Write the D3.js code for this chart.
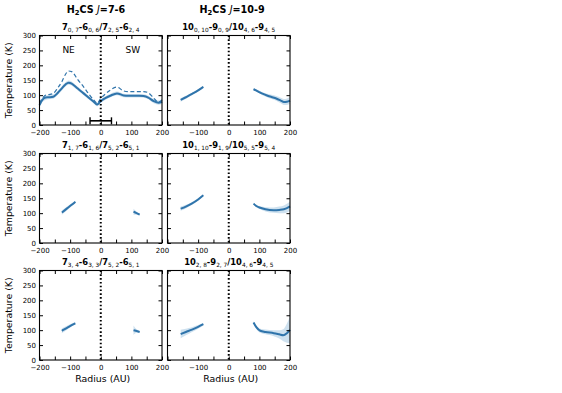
<!DOCTYPE html>
<html>
<head>
<meta charset="utf-8">
<script src="https://cdn.jsdelivr.net/npm/d3@7"></script>
<style>
  body { margin: 0; background: #fff; }
  svg { font-family: "DejaVu Sans", sans-serif; }
  .tick text { font-family: "DejaVu Sans", sans-serif; font-size: 7px; fill: #000; }
  .tick line { stroke: #000; }
  .domain { stroke: none; }
</style>
</head>
<body>
<svg id="chart" width="562" height="393"></svg>
<script>
// ---- data ----
// radius grid (AU) and temperatures (K)
var p1Radius = [-200,-190,-180,-170,-155,-140,-127,-115,-105,-95,-89,-75,-56,-40,-23,-12,0,15,31,53,75,90,107,125,140,155,173,189,200];
var p1Solid  = [67,85,92,93,95,108,123,136,142,139,134,122,106,92,78,69,80,90,98,106,99,98,98,98,97,92,80,75,78];
var p1Dashed = [73,90,100,102,106,125,145,170,181,179,173,152,128,105,84,73,89,104,117,127,114,112,112,112,112,108,90,76,84];
var p1Err    = [8,8,8,7,7,7,7,7,7,7,7,6,6,6,6,6,6,6,6,6,6,6,6,6,6,6,7,7,8];

var p2LeftR  = [-157,-140,-120,-100,-83];
var p2LeftT  = [84,93,104,116,128];
var p2LeftE  = [6,5,4,4,3];
var p2RightR = [81,95,110,125,140,155,170,180,190,200];
var p2RightT = [120,113,105,99,94,89,82,77,78,82];
var p2RightE = [3,4,5,6,7,8,9,10,11,12];

var p3LeftR  = [-127,-110,-95,-83];
var p3LeftT  = [102,116,128,138];
var p3LeftE  = [7,6,5,4];
var p3RightR = [107,117,127];
var p3RightT = [105,100,95];
var p3RightE = [10,5,3];

var p4LeftR  = [-157,-140,-121,-100,-83];
var p4LeftT  = [115,122,132,146,160];
var p4LeftE  = [7,6,5,4,3];
var p4RightR = [81,90,103,120,147,165,180,200];
var p4RightT = [132,124,118,113,110,111,113,123];
var p4RightE = [3,4,5,7,9,11,13,15];

var p5LeftR  = [-127,-110,-95,-83];
var p5LeftT  = [98,108,117,123];
var p5LeftE  = [8,7,5,4];
var p5RightR = [107,117,127];
var p5RightT = [100,97,94];
var p5RightE = [16,6,3];

var p6LeftR  = [-157,-140,-120,-100,-83];
var p6LeftT  = [87,94,102,111,120];
var p6LeftE  = [14,11,8,6,4];
var p6RightR = [81,90,103,120,147,165,178,190,200];
var p6RightT = [126,110,98,94,90,86,83,90,101];
var p6RightE = [4,6,7,8,10,14,20,32,45];

var colTitles = ["J=7-6", "J=10-9"];
var panelLabels = [
  [["7","0, 7"],["-6","0, 6"],["/7","2, 5"],["-6","2, 4"]],
  [["10","0, 10"],["-9","0, 9"],["/10","4, 6"],["-9","4, 5"]],
  [["7","1, 7"],["-6","1, 6"],["/7","5, 2"],["-6","5, 1"]],
  [["10","1, 10"],["-9","1, 9"],["/10","5, 5"],["-9","5, 4"]],
  [["7","3, 4"],["-6","3, 3"],["/7","5, 2"],["-6","5, 1"]],
  [["10","2, 8"],["-9","2, 7"],["/10","4, 6"],["-9","4, 5"]]
];
var xTicks = [-200,-150,-100,-50,0,50,100,150,200];
var yTicks = [0,50,100,150,200,250,300];
var beamHalf = 35, beamT = 14; // NE/SW beam bar in first panel

var lineColor = "#2f74ab";
var bandColor = "#1f77b4";

function seg(r, t, e) {
  return r.map(function (d, i) { return { r: d, t: t[i], e: e[i] }; });
}
var panels = [
  { segs: [seg(p1Radius, p1Solid, p1Err)], dashed: seg(p1Radius, p1Dashed, p1Err), beam: true },
  { segs: [seg(p2LeftR, p2LeftT, p2LeftE), seg(p2RightR, p2RightT, p2RightE)] },
  { segs: [seg(p3LeftR, p3LeftT, p3LeftE), seg(p3RightR, p3RightT, p3RightE)] },
  { segs: [seg(p4LeftR, p4LeftT, p4LeftE), seg(p4RightR, p4RightT, p4RightE)] },
  { segs: [seg(p5LeftR, p5LeftT, p5LeftE), seg(p5RightR, p5RightT, p5RightE)] },
  { segs: [seg(p6LeftR, p6LeftT, p6LeftE), seg(p6RightR, p6RightT, p6RightE)] }
];

// ---- layout ----
var svg = d3.select("#chart");
var colX = [39.5, 167.5], pw = 122.5;
var rowY = [35.5, 153.5, 270.5], ph = 89.5;

panels.forEach(function (p, k) {
  var col = k % 2, row = Math.floor(k / 2);
  var x0 = colX[col], y0 = rowY[row];
  var x = d3.scaleLinear().domain([-200, 200]).range([x0, x0 + pw]);
  var y = d3.scaleLinear().domain([0, 300]).range([y0 + ph, y0]);
  var g = svg.append("g");

  var area = d3.area().x(function (d) { return x(d.r); })
    .y0(function (d) { return y(d.t - d.e); })
    .y1(function (d) { return y(d.t + d.e); })
    .curve(d3.curveMonotoneX);
  var line = d3.line().x(function (d) { return x(d.r); })
    .y(function (d) { return y(d.t); })
    .curve(d3.curveMonotoneX);

  p.segs.forEach(function (s) {
    g.append("path").attr("d", area(s)).attr("fill", bandColor).attr("opacity", 0.22);
  });
  if (p.dashed) {
    g.append("path").attr("d", line(p.dashed)).attr("fill", "none")
      .attr("stroke", lineColor).attr("stroke-width", 1.2).attr("stroke-dasharray", "4,2.5");
  }
  p.segs.forEach(function (s) {
    g.append("path").attr("d", line(s)).attr("fill", "none")
      .attr("stroke", lineColor).attr("stroke-width", 2);
  });

  // dotted centre line
  g.append("line").attr("x1", x(0)).attr("x2", x(0)).attr("y1", y0).attr("y2", y0 + ph)
    .attr("stroke", "#000").attr("stroke-width", 2).attr("stroke-dasharray", "1.6,2.2");

  if (p.beam) {
    g.append("line").attr("x1", x(-beamHalf)).attr("x2", x(beamHalf))
      .attr("y1", y(beamT)).attr("y2", y(beamT)).attr("stroke", "#000").attr("stroke-width", 1.6);
    [-beamHalf, beamHalf].forEach(function (b) {
      g.append("line").attr("x1", x(b)).attr("x2", x(b))
        .attr("y1", y(beamT) - 3.5).attr("y2", y(beamT) + 3.5)
        .attr("stroke", "#000").attr("stroke-width", 1.4);
    });
    g.append("text").attr("x", x(-105)).attr("y", y(240)).attr("text-anchor", "middle")
      .style("font-size", "9px").text("NE");
    g.append("text").attr("x", x(105)).attr("y", y(240)).attr("text-anchor", "middle")
      .style("font-size", "9px").text("SW");
  }

  // axes: ticks point inwards on all four sides
  var fmtX = function (d) {
    if (d % 100 !== 0 || (col === 1 && d === -200)) return "";
    return d3.format("")(d);
  };
  g.append("g").attr("transform", "translate(0," + (y0 + ph) + ")")
    .call(d3.axisBottom(x).tickValues(xTicks).tickSize(-3.5).tickPadding(4.8).tickFormat(fmtX));
  g.append("g").attr("transform", "translate(0," + y0 + ")")
    .call(d3.axisTop(x).tickValues(xTicks).tickSize(-3.5).tickFormat(""));
  g.append("g").attr("transform", "translate(" + x0 + ",0)")
    .call(d3.axisLeft(y).tickValues(yTicks).tickSize(-3.5).tickPadding(3.5)
      .tickFormat(col === 0 ? d3.format("") : ""));
  g.append("g").attr("transform", "translate(" + (x0 + pw) + ",0)")
    .call(d3.axisRight(y).tickValues(yTicks).tickSize(-3.5).tickFormat(""));

  g.append("rect").attr("x", x0).attr("y", y0).attr("width", pw).attr("height", ph)
    .attr("fill", "none").attr("stroke", "#000").attr("stroke-width", 1.1);

  // panel label with subscripts
  var t = svg.append("text").attr("x", x0 + pw / 2).attr("y", y0 - 5.5)
    .attr("text-anchor", "middle").style("font-size", "8.4px").style("font-weight", "bold");
  panelLabels[k].forEach(function (part, i) {
    t.append("tspan").attr("dy", i === 0 ? 0 : -1.8).text(part[0]);
    t.append("tspan").attr("dy", 1.8).style("font-size", "5.8px").style("font-weight", "normal").text(part[1]);
  });

  if (col === 0) {
    svg.append("text").attr("transform", "translate(12," + (y0 + ph / 2) + ") rotate(-90)")
      .attr("text-anchor", "middle").style("font-size", "9.4px").text("Temperature (K)");
  }
  if (row === 2) {
    svg.append("text").attr("x", x0 + pw / 2 + 2).attr("y", y0 + ph + 22)
      .attr("text-anchor", "middle").style("font-size", "9.4px").text("Radius (AU)");
  }
});

// column titles
var titleX = [96, 232];
colTitles.forEach(function (c, i) {
  var t = svg.append("text").attr("x", titleX[i]).attr("y", 12.5)
    .attr("text-anchor", "middle").style("font-size", "9.6px").style("font-weight", "bold");
  t.append("tspan").text("H");
  t.append("tspan").attr("dy", 2).style("font-size", "6.8px").text("2");
  t.append("tspan").attr("dy", -2).text("CS ");
  t.append("tspan").style("font-style", "italic").style("font-weight", "normal").text(c.slice(0, 1));
  t.append("tspan").text(c.slice(1));
});
</script>
</body>
</html>
